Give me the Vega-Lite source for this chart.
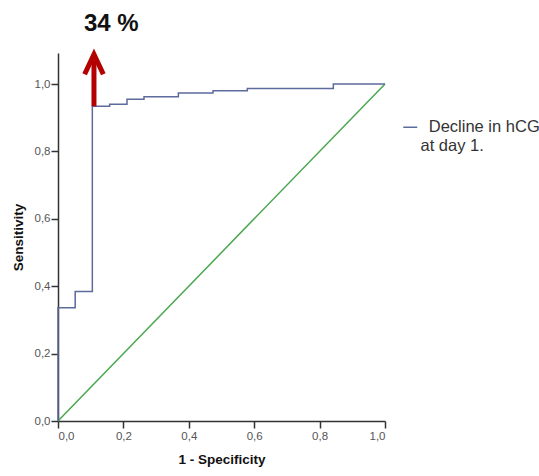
{
  "$schema": "https://vega.github.io/schema/vega-lite/v6.json",
  "width": 327,
  "height": 368,
  "autosize": {"type": "none"},
  "padding": {"left": 58, "top": 53, "right": 154, "bottom": 55},
  "background": "white",
  "config": {
    "view": {"stroke": null},
    "font": "Liberation Sans"
  },
  "datasets": {
    "roc": [
      {"fpr": 0, "tpr": 0, "series": "Decline in hCG at day 1."},
      {"fpr": 0, "tpr": 0.336, "series": "Decline in hCG at day 1."},
      {"fpr": 0.0526, "tpr": 0.384, "series": "Decline in hCG at day 1."},
      {"fpr": 0.105, "tpr": 0.934, "series": "Decline in hCG at day 1."},
      {"fpr": 0.158, "tpr": 0.94, "series": "Decline in hCG at day 1."},
      {"fpr": 0.211, "tpr": 0.955, "series": "Decline in hCG at day 1."},
      {"fpr": 0.263, "tpr": 0.962, "series": "Decline in hCG at day 1."},
      {"fpr": 0.368, "tpr": 0.973, "series": "Decline in hCG at day 1."},
      {"fpr": 0.474, "tpr": 0.98, "series": "Decline in hCG at day 1."},
      {"fpr": 0.579, "tpr": 0.987, "series": "Decline in hCG at day 1."},
      {"fpr": 0.842, "tpr": 1.0, "series": "Decline in hCG at day 1."},
      {"fpr": 1.0, "tpr": 1.0, "series": "Decline in hCG at day 1."}
    ],
    "ref": [
      {"fpr": 0, "tpr": 0},
      {"fpr": 1, "tpr": 1}
    ],
    "arrow": [
      {"x": 0.11, "y": 0.934, "y2": 1.07}
    ],
    "head": [
      {"x": 0.11, "y": 1.06}
    ],
    "label": [
      {"x": 0.163, "y": 1.178, "text": "34 %"}
    ]
  },
  "layer": [
    {
      "data": {"name": "ref"},
      "mark": {"type": "line", "color": "#4aa64f", "strokeWidth": 1.5},
      "encoding": {
        "x": {
          "field": "fpr", "type": "quantitative",
          "scale": {"domain": [0, 1], "nice": false, "zero": false},
          "axis": {
            "title": "1 - Specificity",
            "values": [0, 0.2, 0.4, 0.6, 0.8, 1.0],
            "format": ".1f",
            "labelExpr": "replace(datum.label, '.', ',')",
            "grid": false,
            "domainColor": "#333333",
            "domainWidth": 1.5,
            "tickColor": "#333333",
            "tickSize": 7,
            "tickWidth": 1.5,
            "labelColor": "#555555",
            "labelFontSize": 11.5,
            "labelPadding": 2,
            "titleFontSize": 13.5,
            "titleFontWeight": "bold",
            "titleColor": "#111111",
            "titlePadding": 11
          }
        },
        "y": {
          "field": "tpr", "type": "quantitative",
          "scale": {"domain": [0, 1.092], "nice": false, "zero": false},
          "axis": {
            "title": "Sensitivity",
            "values": [0, 0.2, 0.4, 0.6, 0.8, 1.0],
            "format": ".1f",
            "labelExpr": "replace(datum.label, '.', ',')",
            "grid": false,
            "domainColor": "#333333",
            "domainWidth": 1.5,
            "tickColor": "#333333",
            "tickSize": 7,
            "tickWidth": 1.5,
            "labelColor": "#555555",
            "labelFontSize": 11.5,
            "labelPadding": 1,
            "titleFontSize": 13.5,
            "titleFontWeight": "bold",
            "titleColor": "#111111",
            "titlePadding": 9
          }
        }
      }
    },
    {
      "data": {"name": "roc"},
      "mark": {"type": "line", "interpolate": "step-after", "strokeWidth": 1.5},
      "encoding": {
        "x": {"field": "fpr", "type": "quantitative"},
        "y": {"field": "tpr", "type": "quantitative"},
        "color": {
          "field": "series", "type": "nominal",
          "scale": {"range": ["#5d6a9c"]},
          "legend": {
            "title": null,
            "orient": "none",
            "legendX": 344,
            "legendY": 66,
            "symbolType": "stroke",
            "symbolSize": 196,
            "symbolStrokeWidth": 1.5,
            "labelExpr": "['\u200b\u2002Decline in hCG', 'at day 1.']",
            "labelFontSize": 16.5,
            "labelLineHeight": 20,
            "labelColor": "#333333",
            "labelLimit": 200,
            "labelOffset": 2
          }
        }
      }
    },
    {
      "data": {"name": "arrow"},
      "mark": {"type": "rule", "color": "#b30000", "strokeWidth": 5},
      "encoding": {
        "x": {"field": "x", "type": "quantitative"},
        "y": {"field": "y", "type": "quantitative"},
        "y2": {"field": "y2"}
      }
    },
    {
      "data": {"name": "head"},
      "mark": {
        "type": "point",
        "shape": "M-0.85,0.95L0,-0.85L0.85,0.95",
        "filled": false,
        "stroke": "#b30000",
        "strokeWidth": 5,
        "strokeJoin": "miter",
        "opacity": 1,
        "size": 484
      },
      "encoding": {
        "x": {"field": "x", "type": "quantitative"},
        "y": {"field": "y", "type": "quantitative"}
      }
    },
    {
      "data": {"name": "label"},
      "mark": {"type": "text", "fontSize": 24, "fontWeight": "bold", "color": "#111111", "align": "center", "baseline": "middle"},
      "encoding": {
        "x": {"field": "x", "type": "quantitative"},
        "y": {"field": "y", "type": "quantitative"},
        "text": {"field": "text"}
      }
    }
  ]
}
